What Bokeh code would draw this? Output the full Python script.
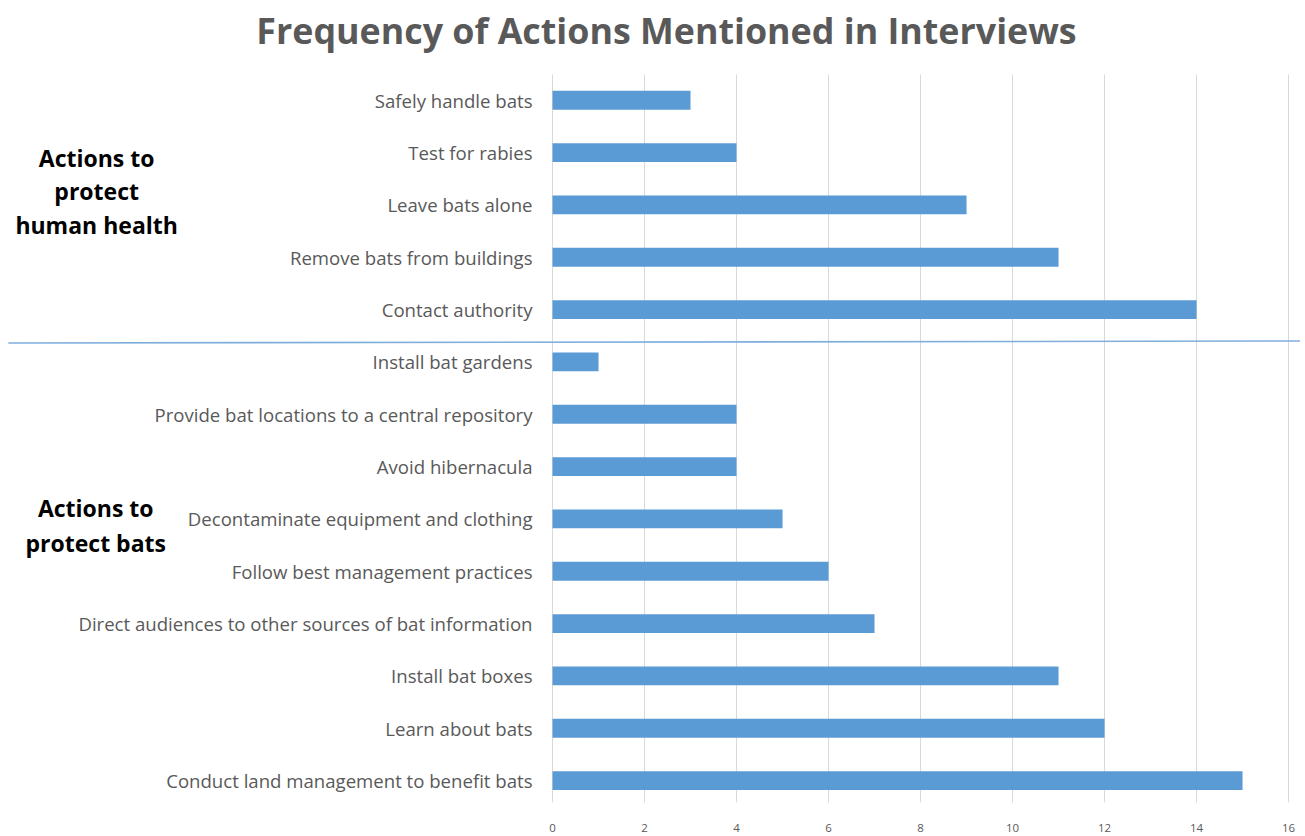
from bokeh.plotting import figure
from bokeh.models import Range1d, FixedTicker, ColumnDataSource
from bokeh.core.properties import value
from bokeh.embed import file_html
from bokeh.resources import INLINE

# Data (top to bottom as displayed)
actions = [
    "Safely handle bats",
    "Test for rabies",
    "Leave bats alone",
    "Remove bats from buildings",
    "Contact authority",
    "Install bat gardens",
    "Provide bat locations to a central repository",
    "Avoid hibernacula",
    "Decontaminate equipment and clothing",
    "Follow best management practices",
    "Direct audiences to other sources of bat information",
    "Install bat boxes",
    "Learn about bats",
    "Conduct land management to benefit bats",
]
counts = [3, 4, 9, 11, 14, 1, 4, 4, 5, 6, 7, 11, 12, 15]
x_ticks = [0, 2, 4, 6, 8, 10, 12, 14, 16]
title_text = "Frequency of Actions Mentioned in Interviews"
group1_lines = ["Actions to", "protect", "human health"]
group2_lines = ["Actions to", "protect bats"]

FONT = "Open Sans"
GRAY = "#595959"
BAR = "#5B9BD5"

n = len(actions)
ypos = [n - 1 - i for i in range(n)]
src = ColumnDataSource(dict(y=ypos, right=counts, name=actions))

Y0, Y1 = -0.419, 14.906
p = figure(width=1300, height=834, output_backend="svg", toolbar_location=None,
           x_range=Range1d(-12.0, 16.26), y_range=Range1d(Y0, Y1),
           min_border_left=0, min_border_right=0, min_border_top=0,
           min_border_bottom=30)
p.outline_line_color = None
p.yaxis.visible = False
p.ygrid.grid_line_color = None

# x axis
p.xaxis.ticker = FixedTicker(ticks=x_ticks)
p.xaxis.axis_line_color = None
p.xaxis.major_tick_line_color = None
p.xaxis.minor_tick_line_color = None
p.xaxis.major_label_text_font = FONT
p.xaxis.major_label_text_font_size = "11.5px"
p.xaxis.major_label_text_color = GRAY
p.xaxis.major_label_standoff = 15

grid_top = n - 1 + 0.496
if "cross_bounds" in p.xgrid.properties():
    p.xgrid.ticker = FixedTicker(ticks=x_ticks)
    p.xgrid.grid_line_color = "#D9D9D9"
    p.xgrid.cross_bounds = (Y0, grid_top)
else:
    p.xgrid.grid_line_color = None
    p.segment(x0=x_ticks, x1=x_ticks, y0=[Y0] * len(x_ticks), y1=[grid_top] * len(x_ticks),
              line_color="#D9D9D9", line_width=1)

p.hbar(y="y", right="right", left=0, height=0.36, source=src,
       fill_color=BAR, line_color=None)

# category labels
p.text(x=-0.435, y="y", text="name", source=src, text_font=value(FONT),
       text_font_size="18.6px", text_color=GRAY, text_align="right", text_baseline="middle")

# divider line between groups
p.line(x=[-11.83, 16.26], y=[8.36, 8.40], line_color="#7FAEDD", line_width=1.6)

# title
p.text(x=[2.478], y=[14.334], text=[title_text], text_font=value(FONT),
       text_font_size="35.8px", text_font_style="bold", text_color=GRAY,
       text_align="center", text_baseline="middle")

# group labels
p.text(x=[-9.91] * 3, y=[11.894, 11.265, 10.617], text=group1_lines, text_font=value(FONT),
       text_font_size="23px", text_font_style="bold", text_color="black",
       text_align="center", text_baseline="middle")
p.text(x=[-9.93] * 2, y=[5.203, 4.536], text=group2_lines, text_font=value(FONT),
       text_font_size="23px", text_font_style="bold", text_color="black",
       text_align="center", text_baseline="middle")

open("out.html", "w").write(file_html(p, INLINE))
